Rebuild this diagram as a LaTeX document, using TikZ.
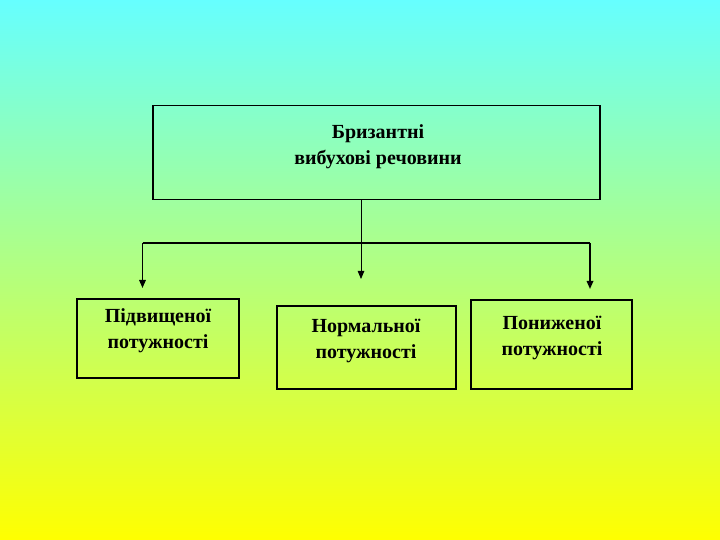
\documentclass[tikz,border=0pt]{standalone}
\usepackage{fontspec}
\setmainfont{Liberation Serif}
\usetikzlibrary{calc}
\usetikzlibrary{arrows.meta}
\definecolor{skycyan}{RGB}{102,255,255}
\definecolor{sunyellow}{RGB}{255,255,0}
\tikzset{
 box/.style={draw=black, line width=1.6pt, rectangle, inner sep=0pt},
 txt/.style={align=center, font=\bfseries\fontsize{20}{26}\selectfont, inner sep=0pt},
 tip/.style={-{Triangle[length=8pt,width=6.5pt]}},
}
\begin{document}
\begin{tikzpicture} [x=1pt,y=1pt]
\fill[top color=skycyan, bottom color=sunyellow] (0,0) rectangle (720,540);
\useasboundingbox (0,0) rectangle (720,540);
\node[box, minimum width=447pt, minimum height=94pt] (top) at (376.5,387.5) {};
\node[txt] (topT) at (378,393.5) {Бризантні\\вибухові речовини};
\node[box, minimum width=162pt, minimum height=79pt] (up) at (158,201.5) {};
\node[txt] (upT) at (158,209) {Підвищеної\\потужності};
\node[box, minimum width=179pt, minimum height=83pt] (norm) at (366.5,192.5) {};
\node[txt] (normT) at (366,199.5) {Нормальної\\потужності};
\node[box, minimum width=161pt, minimum height=89pt] (down) at (551.5,195.5) {};
\node[txt] (downT) at (552,202.5) {Пониженої\\потужності};
\coordinate (jn) at (361,297);
\coordinate (jl) at (142.5,297);
\coordinate (jr) at (590,297);
\coordinate (tl) at (142.5,252);
\coordinate (tm) at (361,261);
\coordinate (tr) at (590,251);
\draw[line width=0.8pt] (top.south -| jn) -- (jn);
\draw[line width=1.2pt] (jl) -- (jr);
\draw[line width=0.8pt, tip] (jn) -- (tm);
\foreach \a/\b in {jl/tl, jr/tr} {
 \draw[line width=1.6pt, tip] (\a) -- (\b);
}
\end{tikzpicture}
\end{document}
